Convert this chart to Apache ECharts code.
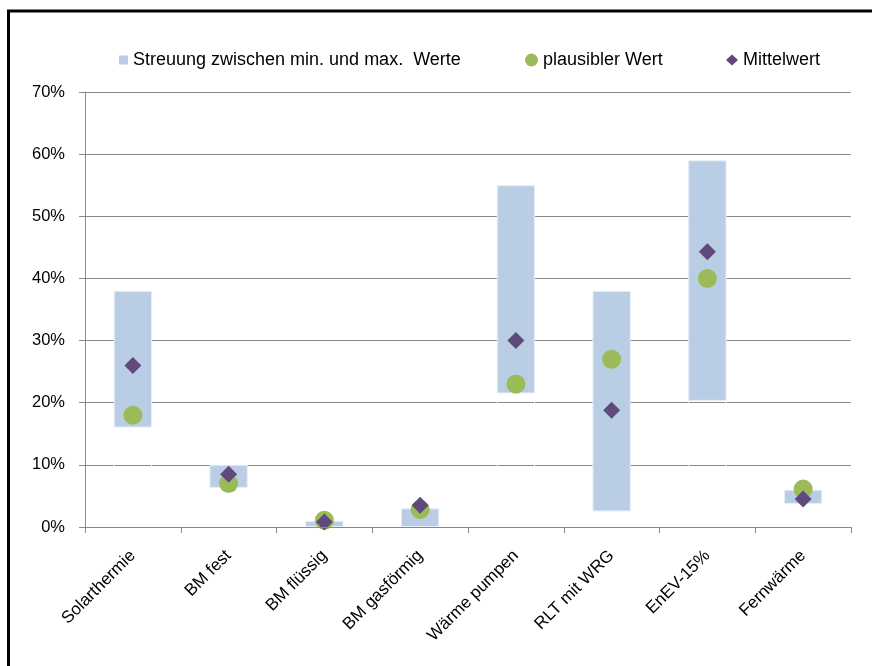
<!DOCTYPE html>
<html>
<head>
<meta charset="utf-8">
<script src="https://cdn.jsdelivr.net/npm/echarts@6/dist/echarts.min.js"></script>
<style>
  html, body { margin: 0; padding: 0; background: #fff; }
  #chart { width: 872px; height: 666px; }
</style>
</head>
<body>
<div id="chart"></div>
<script>
// Anteil erneuerbarer Energien je Maßnahme (in %)
const categories = ['Solarthermie', 'BM fest', 'BM flüssig', 'BM gasförmig', 'Wärme pumpen', 'RLT mit WRG', 'EnEV-15%', 'Fernwärme'];
const minValues = [16, 6.3, 0, 0, 21.5, 2.5, 20.3, 3.7];
const maxValues = [38, 10, 1, 3, 55, 38, 59, 6];
const plausibleValues = [18, 7, 1.1, 2.8, 23, 27, 40, 6.1];
const meanValues = [26, 8.5, 0.8, 3.5, 30, 18.8, 44.3, 4.5];
const yTicks = { min: 0, max: 70, step: 10 };

const NAME_RANGE = 'Streuung zwischen min. und max.  Werte';
const NAME_PLAUS = 'plausibler Wert';
const NAME_MEAN = 'Mittelwert';

const FONT = '"Liberation Sans", Arial, sans-serif';
const GRID_GRAY = '#8a8a8a';

// height of each floating bar = max - min, stacked on an invisible base
const spanValues = maxValues.map((v, i) => +(v - minValues[i]).toFixed(2));

const chart = echarts.init(document.getElementById('chart'), null, { renderer: 'canvas' });

const legendText = { fontFamily: FONT, fontSize: 18, color: '#000' };

chart.setOption({
  backgroundColor: '#fff',
  animation: false,
  graphic: [{
    type: 'rect',
    z: 100,
    shape: { x: 8.5, y: 11, width: 900, height: 700 },
    style: { fill: 'none', stroke: '#000', lineWidth: 3 }
  }],
  legend: [
    {
      data: [NAME_RANGE], left: 119, top: 51, padding: 0, icon: 'rect',
      itemWidth: 9, itemHeight: 9, itemStyle: { borderWidth: 0 },
      textStyle: legendText, selectedMode: false
    },
    {
      data: [NAME_PLAUS], left: 525, top: 51, padding: 0, icon: 'circle',
      itemWidth: 13, itemHeight: 13,
      textStyle: legendText, selectedMode: false
    },
    {
      data: [NAME_MEAN], left: 726, top: 51, padding: 0, icon: 'diamond',
      itemWidth: 12, itemHeight: 11,
      textStyle: legendText, selectedMode: false
    }
  ],
  grid: { left: 85, right: 21, top: 92, bottom: 139, containLabel: false },
  xAxis: {
    type: 'category',
    data: categories,
    z: 5,
    axisLine: { lineStyle: { color: GRID_GRAY, width: 1 } },
    axisTick: { show: true, length: 6, lineStyle: { color: GRID_GRAY } },
    axisLabel: {
      rotate: 45, margin: 26, interval: 0,
      fontFamily: FONT, fontSize: 17, color: '#000'
    }
  },
  yAxis: {
    type: 'value',
    min: yTicks.min, max: yTicks.max, interval: yTicks.step,
    axisLine: { show: true, lineStyle: { color: GRID_GRAY, width: 1 } },
    axisTick: { show: true, length: 6, lineStyle: { color: GRID_GRAY } },
    splitLine: { show: true, lineStyle: { color: GRID_GRAY, width: 1 } },
    axisLabel: {
      formatter: '{value}%', margin: 20,
      fontFamily: FONT, fontSize: 16.5, color: '#000'
    }
  },
  series: [
    {
      name: 'base',
      type: 'bar',
      stack: 'range',
      barWidth: '40%',
      data: minValues,
      itemStyle: { color: 'rgba(255,255,255,0)', borderColor: '#fff', borderWidth: 1 },
      emphasis: { disabled: true },
      silent: true
    },
    {
      name: NAME_RANGE,
      type: 'bar',
      stack: 'range',
      barWidth: '40%',
      data: spanValues,
      itemStyle: { color: '#B9CDE5', borderColor: '#e6eef7', borderWidth: 1 }
    },
    {
      name: NAME_PLAUS,
      type: 'scatter',
      symbol: 'circle',
      symbolSize: 19,
      data: plausibleValues,
      itemStyle: { color: '#9BBB59', opacity: 1 },
      z: 3
    },
    {
      name: NAME_MEAN,
      type: 'scatter',
      symbol: 'diamond',
      symbolSize: [17, 17],
      data: meanValues,
      itemStyle: { color: '#604A7B', opacity: 1 },
      z: 4
    }
  ]
});
</script>
</body>
</html>
